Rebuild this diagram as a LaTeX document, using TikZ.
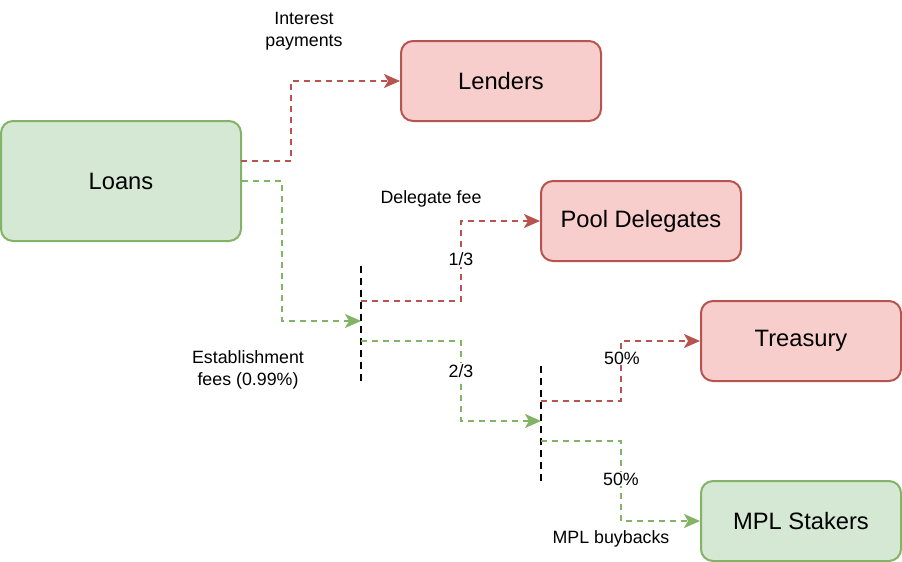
\documentclass[tikz,border=0pt]{standalone}
\usepackage{fontspec}
\setmainfont{Liberation Sans}
\usetikzlibrary{arrows.meta}
\definecolor{gfill}{HTML}{D5E8D4}
\definecolor{gline}{HTML}{82B366}
\definecolor{rfill}{HTML}{F8CECC}
\definecolor{rline}{HTML}{B85450}
\tikzset{
  box/.style={rounded corners=12pt, line width=2pt, minimum width=200pt, minimum height=80pt, inner sep=0pt, font=\fontsize{23.7}{28}\selectfont},
  gbox/.style={box, draw=gline, fill=gfill, minimum width=240pt, minimum height=120pt},
  gbox2/.style={box, draw=gline, fill=gfill},
  rbox/.style={box, draw=rline, fill=rfill},
  flow/.style={line width=2pt, dash pattern=on 6pt off 5pt, -{Stealth[length=16pt,width=14pt,inset=4pt]}},
  rflow/.style={flow, draw=rline, rline},
  gflow/.style={flow, draw=gline, gline},
  split/.style={line width=2pt, dash pattern=on 7pt off 5pt, draw=black},
  lbl/.style={font=\fontsize{17.8}{22}\selectfont, align=center, inner sep=1pt},
  wlbl/.style={lbl, fill=white}
}
\begin{document}
\begin{tikzpicture}[x=1pt,y=-1pt]
\useasboundingbox (0,0) rectangle (902,562);
\node[gbox] (loans) at (121,181) {Loans};
\node[rbox] (lenders) at (501,81) {Lenders};
\node[rbox] (pd) at (641,221) {Pool Delegates};
\node[rbox] (treas) at (801,341) {Treasury};
\node[gbox2] (mpl) at (801,521) {MPL Stakers};
% splitters
\coordinate (s1t) at (361,266);
\coordinate (s1b) at (361,381);
\coordinate (s2t) at (541,366);
\coordinate (s2b) at (541,481);
\draw[split] (s1t) -- (s1b);
\draw[split] (s2t) -- (s2b);
\coordinate (s1in) at (361,321);
\coordinate (s1r) at (361,301);
\coordinate (s1g) at (361,341);
\coordinate (s2in) at (541,421);
\coordinate (s2r) at (541,401);
\coordinate (s2g) at (541,441);
\coordinate (lr) at (241,161);
% flows
\draw[rflow] (lr) -- ++(50,0) |- (lenders.west);
\draw[gflow] (loans.east) -- ++(40,0) |- (s1in);
\draw[rflow] (s1r) -- ++(100,0) |- (pd.west);
\draw[gflow] (s1g) -- ++(100,0) |- (s2in);
\draw[rflow] (s2r) -- ++(80,0) |- (treas.west);
\draw[gflow] (s2g) -- ++(80,0) |- (mpl.west);
% labels
\node[lbl] (l1) at (304,31) {Interest\\payments};
\node[lbl] (l2) at (248,370) {Establishment\\fees (0.99\%)};
\node[lbl] (l3) at (431,199) {Delegate fee};
\node[wlbl] (l4) at (461,259) {1/3};
\node[wlbl] (l5) at (461,371) {2/3};
\node[wlbl] (l6) at (622,358) {50\%};
\node[wlbl] (l7) at (621,479) {50\%};
\node[lbl] (l8) at (611,539) {MPL buybacks};
\end{tikzpicture}
\end{document}
